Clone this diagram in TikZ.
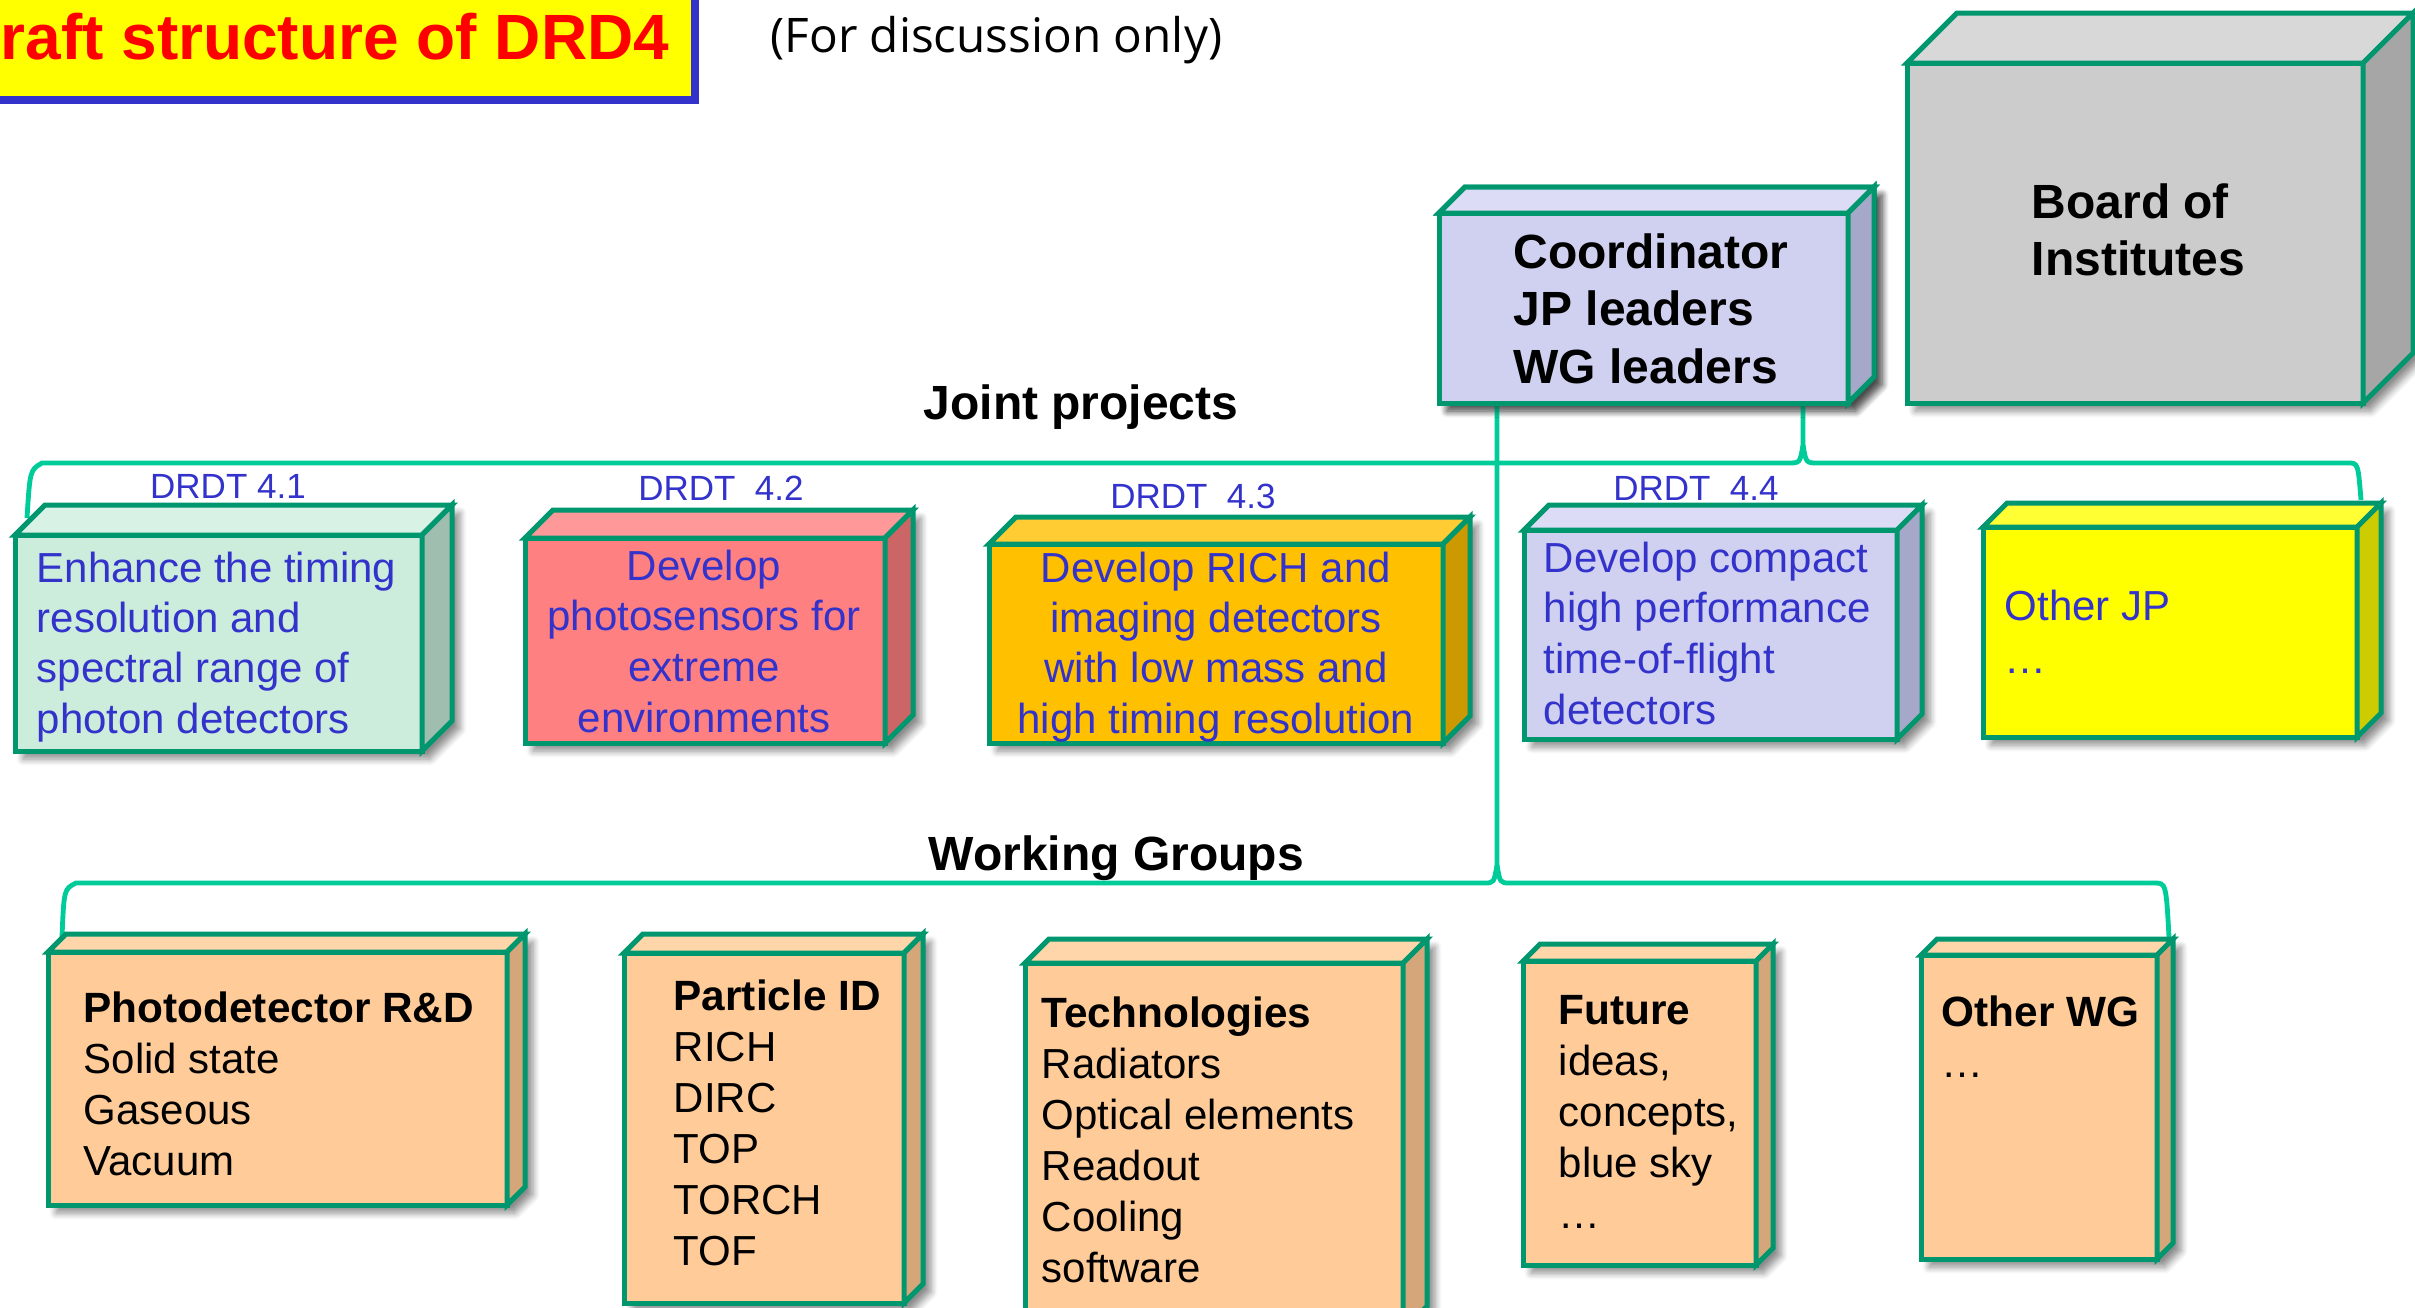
\documentclass[tikz,border=0pt]{standalone}
\usepackage{fontspec}
\setmainfont{Liberation Sans}
\newfontfamily\discfont{Open Sans}
\usetikzlibrary{shadows.blur}
\definecolor{edgegreen}{RGB}{0,150,110}
\definecolor{linkgreen}{RGB}{0,204,153}
\definecolor{txtblue}{RGB}{51,51,204}
\definecolor{titleyellow}{RGB}{255,255,0}
\definecolor{titleblue}{RGB}{51,51,204}
\definecolor{titlered}{RGB}{255,0,0}
\definecolor{lavF}{RGB}{208,208,240}
\definecolor{lavT}{RGB}{220,220,246}
\definecolor{lavS}{RGB}{165,168,200}
\definecolor{grayF}{RGB}{204,204,204}
\definecolor{grayT}{RGB}{216,216,216}
\definecolor{grayS}{RGB}{166,166,166}
\definecolor{mintF}{RGB}{204,236,220}
\definecolor{mintT}{RGB}{216,242,230}
\definecolor{mintS}{RGB}{160,190,176}
\definecolor{redF}{RGB}{255,128,128}
\definecolor{redT}{RGB}{255,153,153}
\definecolor{redS}{RGB}{204,102,102}
\definecolor{orF}{RGB}{255,192,0}
\definecolor{orT}{RGB}{255,204,51}
\definecolor{orS}{RGB}{204,153,0}
\definecolor{yeF}{RGB}{255,255,0}
\definecolor{yeT}{RGB}{255,255,51}
\definecolor{yeS}{RGB}{204,204,0}
\definecolor{peF}{RGB}{255,204,153}
\definecolor{peT}{RGB}{255,214,170}
\definecolor{peS}{RGB}{212,166,122}
\tikzset{
  cubeface/.style={rectangle, draw=edgegreen, line width=1.5pt, inner sep=0pt, outer sep=0pt},
  cubeedge/.style={draw=edgegreen, line width=1.5pt},
  link/.style={draw=linkgreen, line width=1.45pt},
  jpl/.style={anchor=base west, inner sep=0pt, text=txtblue, font=\fontsize{12.6}{15}\selectfont},
  jpc/.style={anchor=base, inner sep=0pt, text=txtblue, font=\fontsize{12.6}{15}\selectfont},
  wgl/.style={anchor=base west, inner sep=0pt, font=\fontsize{12.6}{15}\selectfont},
  wgh/.style={anchor=base west, inner sep=0pt, font=\bfseries\fontsize{12.7}{15}\selectfont},
  hd/.style={anchor=base west, inner sep=0pt, font=\bfseries\fontsize{14.4}{17}\selectfont},
  lab/.style={anchor=base, inner sep=0pt, text=txtblue, font=\fontsize{10.5}{12}\selectfont},
}
\newcommand\cuboid[9]{%
  \path[fill=#9, blur shadow={shadow xshift=2.4pt, shadow yshift=-2.4pt, shadow blur radius=2pt, shadow blur steps=6, shadow opacity=45}]
    (#2,#5) -- (#4,#5) -- ({#4+#6},{#5-#6}) -- ({#4+#6},{#3-#6}) -- ({#2+#6},{#3-#6}) -- (#2,#3) -- cycle;
  \node[cubeface, fill=#7, minimum width={(#4-#2)*0.3pt}, minimum height={(#5-#3)*0.3pt}] (#1) at ({(#2+#4)/2},{(#3+#5)/2}) {};
  \draw[cubeedge, fill=#8] (#1.north west) -- ++(#6,-#6) -- ++({#4-#2},0) -- (#1.north east) -- cycle;
  \draw[cubeedge, fill=#9] (#1.north east) -- ++(#6,-#6) -- ++(0,{#5-#3}) -- (#1.south east) -- cycle;
}
\newcommand\txtlines[6]{%
  \foreach \t [count=\i] in {#6} {\node[#5] (#1\i) at (#2,{#3+(\i-1)*#4}) {\t};}%
}
\begin{document}
\begin{tikzpicture}[x=0.3pt, y=-0.3pt]
\useasboundingbox (0,0) rectangle (2415,1307);
\clip (0,0) rectangle (2415,1307);

% title
\fill[titleyellow] (0,0) rectangle (691,96);
\draw[titleblue, line width=2.4pt] (695,0) -- (695,99.5) -- (0,99.5);
\node[anchor=base west, inner sep=0pt, text=titlered, font=\bfseries\fontsize{19.2}{22}\selectfont] (title) at (0,59) {raft structure of DRD4};
\node[anchor=base west, inner sep=0pt, font=\discfont\fontsize{14.3}{17}\selectfont] (disc) at (770,52) {(For discussion only)};

% coordinator and board boxes
\cuboid{co}{1439}{213}{1848}{403}{26}{lavF}{lavT}{lavS}
\cuboid{bi}{1907}{63}{2363}{403}{50}{grayF}{grayT}{grayS}

% connectors
\coordinate (coA) at ([xshift=-13.5pt]co.south east);
\coordinate (coB) at ([xshift=17.4pt]co.south west);
\coordinate (jpL) at (27,518);
\coordinate (jpR) at (2361,500);
\coordinate (wgL) at (62,937);
\coordinate (wgR) at (2169,937);
\draw[link] (jpL) .. controls (30,470) .. (42,463) -- (1788,463) .. controls (1800,463) .. (1803,445) -- (coA);
\draw[link] (1803,445) .. controls (1806,463) .. (1818,463) -- (2348,463) .. controls (2358,463) .. (jpR);
\draw[link] (wgL) .. controls (64,889) .. (76,883) -- (1484,883) .. controls (1494,883) .. (1497,865) -- (coB);
\draw[link] (1497,865) .. controls (1500,883) .. (1510,883) -- (2154,883) .. controls (2166,883) .. (wgR);

% redraw coordinator over link ends
\cuboid{co}{1439}{213}{1848}{403}{26}{lavF}{lavT}{lavS}

\node[hd] (co1) at (1513,268) {Coordinator};
\node[hd] (co2) at (1513,325.5) {JP leaders};
\node[hd] (co3) at (1513,383) {WG leaders};
\node[hd] (bi1) at (2031,218) {Board of};
\node[hd] (bi2) at (2031,275) {Institutes};

\node[hd, anchor=base] (jph) at (1081,419) {Joint projects};
\node[hd] (wgh) at (928,870) {Working Groups};

% joint projects
\cuboid{j1}{15}{535}{422}{751}{30}{mintF}{mintT}{mintS}
\cuboid{j2}{525}{538}{885}{743}{28}{redF}{redT}{redS}
\cuboid{j3}{989}{544}{1443}{743}{27}{orF}{orT}{orS}
\cuboid{j4}{1524}{530}{1897}{739}{25}{lavF}{lavT}{lavS}
\cuboid{j5}{1983}{527}{2357}{737}{24}{yeF}{yeT}{yeS}

\node[lab] (l1) at (228,498) {DRDT 4.1};
\node[lab] (l2) at (721,500) {DRDT\ \ 4.2};
\node[lab] (l3) at (1193,508) {DRDT\ \ 4.3};
\node[lab] (l4) at (1696,500) {DRDT\ \ 4.4};

\txtlines{j1t}{36}{582}{50.4}{jpl}{Enhance the timing, resolution and, spectral range of, photon detectors}
\txtlines{j2t}{704}{580}{50.7}{jpc}{Develop, photosensors for, extreme, environments}
\txtlines{j3t}{1216}{582}{50.4}{jpc}{Develop RICH and, imaging detectors, with low mass and, high timing resolution}
\txtlines{j4t}{1543}{572}{50.7}{jpl}{Develop compact, high performance, time-of-flight, detectors}
\txtlines{j5t}{2004}{620}{53}{jpl}{Other JP, …}

% working groups
\cuboid{w1}{48}{952}{507}{1205}{18}{peF}{peT}{peS}
\cuboid{w2}{624}{953}{904}{1303}{19}{peF}{peT}{peS}
\cuboid{w3}{1025}{963}{1403}{1330}{24}{peF}{peT}{peS}
\cuboid{w4}{1523}{961}{1756}{1265}{17}{peF}{peT}{peS}
\cuboid{w5}{1921}{955}{2157}{1259}{16}{peF}{peT}{peS}

\node[wgh] (w1h) at (83,1022) {Photodetector R\&D};
\txtlines{w1t}{83}{1073}{51}{wgl}{Solid state, Gaseous, Vacuum}
\node[wgh] (w2h) at (673,1010) {Particle ID};
\txtlines{w2t}{673}{1061}{51}{wgl}{RICH, DIRC, TOP, TORCH, TOF}
\node[wgh] (w3h) at (1041,1027) {Technologies};
\txtlines{w3t}{1041}{1078}{51}{wgl}{Radiators, Optical elements, Readout, Cooling, software}
\node[wgh] (w4h) at (1558,1024) {Future};
\txtlines{w4t}{1558}{1075}{51}{wgl}{{ideas,}, {concepts,}, blue sky, …}
\node[wgh] (w5h) at (1941,1026) {Other WG};
\txtlines{w5t}{1941}{1077}{51}{wgl}{…}
\end{tikzpicture}
\end{document}
